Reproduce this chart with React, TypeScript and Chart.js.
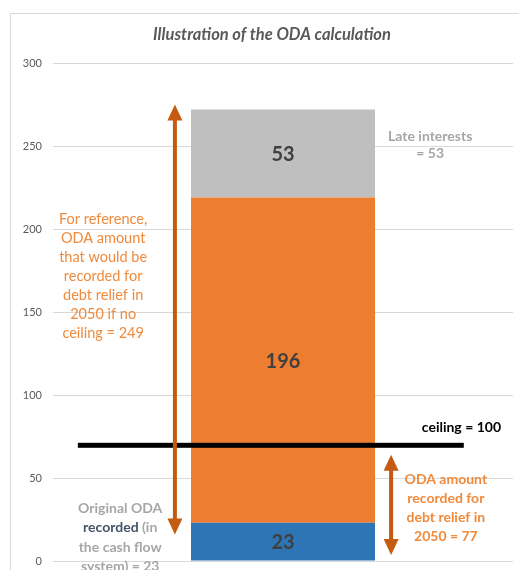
import React, { useEffect, useRef } from "react";
import { Chart, registerables } from "chart.js";

Chart.register(...registerables);

// ---- data ----
const categories = ["2050"];
const originalOda = [23];
const debtRelief = [196];
const lateInterests = [53];
const ceilingLevel = [70];
const referenceArrowRange = [16, 275];
const recordedArrowRange = [3.6, 64];

const titleText = "Illustration of the ODA calculation";
const referenceText = ["For reference,", "ODA amount", "that would be", "recorded for", "debt relief in", "2050 if no", "ceiling = 249"];
const recordedText = ["ODA amount", "recorded for", "debt relief in", "2050 = 77"];
const originalText = [
  [{ t: "Original ODA", c: "#A6A6A6" }],
  [{ t: "recorded", c: "#44546A" }, { t: " (in", c: "#A6A6A6" }],
  [{ t: "the cash flow", c: "#A6A6A6" }],
  [{ t: "system) = 23", c: "#A6A6A6" }],
];
const lateText = ["Late interests", "= 53"];
const ceilingText = "ceiling = 100";

const FONT = "Lato, 'Open Sans', sans-serif";
const ARROW = "#C55A11";

function drawArrow(ctx: CanvasRenderingContext2D, x: number, yTop: number, yBot: number) {
  const head = 16, half = 7.5;
  ctx.save();
  ctx.fillStyle = ARROW;
  ctx.strokeStyle = ARROW;
  ctx.lineWidth = 4;
  ctx.beginPath();
  ctx.moveTo(x, yTop + head - 1);
  ctx.lineTo(x, yBot - head + 1);
  ctx.stroke();
  ctx.beginPath();
  ctx.moveTo(x, yTop);
  ctx.lineTo(x - half, yTop + head);
  ctx.lineTo(x + half, yTop + head);
  ctx.closePath();
  ctx.fill();
  ctx.beginPath();
  ctx.moveTo(x, yBot);
  ctx.lineTo(x - half, yBot - head);
  ctx.lineTo(x + half, yBot - head);
  ctx.closePath();
  ctx.fill();
  ctx.restore();
}

const annoPlugin = {
  id: "anno",
  afterDatasetsDraw(chart: any) {
    const ctx: CanvasRenderingContext2D = chart.ctx;
    const y = chart.scales.y;
    const a = chart.chartArea;
    const fx = (f: number) => a.left + f * (a.right - a.left);
    // ceiling line
    ctx.save();
    ctx.fillStyle = "#000000";
    const cy = y.getPixelForValue(ceilingLevel[0]);
    ctx.fillRect(fx(0.054), cy - 2, fx(0.893) - fx(0.054), 5);
    ctx.restore();
    // segment labels
    ctx.save();
    ctx.font = `bold 20px ${FONT}`;
    ctx.fillStyle = "#404040";
    ctx.textAlign = "center";
    ctx.textBaseline = "middle";
    for (let i = 0; i < 3; i++) {
      const meta = chart.getDatasetMeta(i);
      const el = meta.data[0];
      const p = el.getProps(["x", "y", "base"], true);
      const v = chart.data.datasets[i].data[0];
      ctx.fillText(String(v), p.x, (p.y + p.base) / 2 + 1);
    }
    ctx.restore();
    // arrows
    drawArrow(ctx, fx(0.265), y.getPixelForValue(referenceArrowRange[1]), y.getPixelForValue(referenceArrowRange[0]));
    drawArrow(ctx, fx(0.735), y.getPixelForValue(recordedArrowRange[1]), y.getPixelForValue(recordedArrowRange[0]));
  },
  afterDraw(chart: any) {
    const ctx: CanvasRenderingContext2D = chart.ctx;
    const y = chart.scales.y;
    const a = chart.chartArea;
    const fx = (f: number) => a.left + f * (a.right - a.left);
    ctx.save();
    ctx.textBaseline = "middle";
    ctx.textAlign = "center";
    // title
    ctx.font = `italic bold 16.5px ${FONT}`;
    ctx.fillStyle = "#595959";
    ctx.fillText(titleText, fx(0.476), 35);
    // reference text
    ctx.font = `14.5px ${FONT}`;
    ctx.fillStyle = "#F08A3C";
    let y0 = y.getPixelForValue(206.0);
    referenceText.forEach((s, i) => ctx.fillText(s, fx(0.109), y0 + i * 19));
    // recorded text
    ctx.font = `bold 14px ${FONT}`;
    ctx.fillStyle = "#F08A3C";
    y0 = y.getPixelForValue(49.4);
    recordedText.forEach((s, i) => ctx.fillText(s, fx(0.854), y0 + i * 19));
    // original text (mixed colours)
    ctx.textAlign = "left";
    y0 = y.getPixelForValue(31.6);
    const cx = fx(0.146);
    originalText.forEach((segs, i) => {
      const w = segs.reduce((acc, s) => acc + ctx.measureText(s.t).width, 0);
      let x = cx - w / 2;
      segs.forEach((s) => {
        ctx.fillStyle = s.c;
        ctx.fillText(s.t, x, y0 + i * 19.3);
        x += ctx.measureText(s.t).width;
      });
    });
    // ceiling label
    ctx.textAlign = "right";
    ctx.fillStyle = "#000000";
    ctx.fillText(ceilingText, fx(0.974), y.getPixelForValue(80.2));
    // late interests
    ctx.textAlign = "center";
    ctx.font = `bold 14px ${FONT}`;
    ctx.fillStyle = "#A6A6A6";
    ctx.fillText(lateText[0], fx(0.82), y.getPixelForValue(256.0));
    ctx.fillText(lateText[1], fx(0.82), y.getPixelForValue(245.2));
    ctx.restore();
  },
};

export default function App() {
  const ref = useRef<HTMLCanvasElement | null>(null);
  useEffect(() => {
    if (!ref.current) return;
    const chart = new Chart(ref.current, {
      type: "bar",
      data: {
        labels: categories,
        datasets: [
          { label: "Original ODA", data: originalOda, backgroundColor: "#2E75B6" },
          { label: "Debt relief", data: debtRelief, backgroundColor: "#ED7D31" },
          { label: "Late interests", data: lateInterests, backgroundColor: "#BFBFBF" },
        ],
      },
      options: {
        animation: false,
        responsive: false,
        maintainAspectRatio: false,
        layout: { padding: { top: 63, right: 6, bottom: 9, left: 0 } },
        plugins: { legend: { display: false }, title: { display: false }, tooltip: { enabled: false } },
        datasets: { bar: { categoryPercentage: 0.8, barPercentage: 0.5 } },
        scales: {
          x: { display: false, stacked: true },
          y: {
            stacked: true,
            min: 0,
            max: 300,
            ticks: { stepSize: 50, padding: 11, color: "#595959", font: { family: FONT, size: 11 } },
            grid: { color: "#D9D9D9", drawTicks: false },
            border: { display: false },
            afterFit: (s: any) => { s.width = 53; s.paddingTop = 0; s.paddingBottom = 0; },
          },
        },
      } as any,
      plugins: [annoPlugin],
    });
    return () => chart.destroy();
  }, []);
  return (
    <div style={{ position: "fixed", left: 0, top: 0, width: 519, height: 570, overflow: "hidden", background: "#fff" }}>
      <div style={{ position: "absolute", left: 10, top: 13, width: 600, height: 700, border: "1px solid #D9D9D9" }} />
      <canvas ref={ref} width={519} height={570} style={{ position: "absolute", left: 0, top: 0 }} />
    </div>
  );
}
